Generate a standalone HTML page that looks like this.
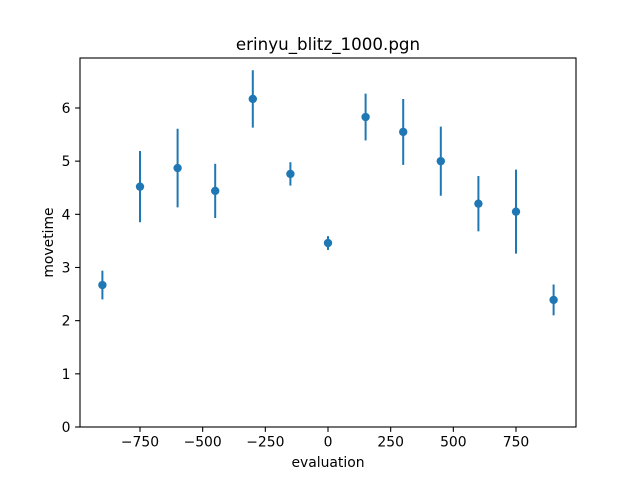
<!DOCTYPE html>
<html><head><meta charset="utf-8"><style>
body{margin:0;background:#fff;}
svg{display:block;font-family:"DejaVu Sans","Liberation Sans",sans-serif;}
</style></head><body>
<svg id="chart" width="640" height="480" viewBox="0 0 640 480">
<rect width="640" height="480" fill="#fff"/>
<g id="marks"></g>
<rect x="80" y="58" width="496" height="369" fill="none" stroke="#000" stroke-width="1.1"/>
<g id="xt"></g><g id="yt"></g>
<text x="328" y="50" text-anchor="middle" font-size="16.7">erinyu_blitz_1000.pgn</text>
<text x="328" y="467" text-anchor="middle" font-size="13.9">evaluation</text>
<text transform="translate(53,242.5) rotate(-90)" text-anchor="middle" font-size="13.9">movetime</text>
</svg>
<script>
const xs=[-900,-750,-600,-450,-300,-150,0,150,300,450,600,750,900];
const ys=[2.67,4.52,4.87,4.44,6.17,4.76,3.46,5.83,5.55,5.0,4.2,4.05,2.39];
const errs=[0.27,0.67,0.74,0.51,0.54,0.22,0.13,0.44,0.62,0.65,0.52,0.79,0.29];
const xTicks=[-750,-500,-250,0,250,500,750];
const yTicks=[0,1,2,3,4,5,6];
const NS="http://www.w3.org/2000/svg";
const X=v=>328+v*0.25067, Y=v=>427-v*53.17;
function mk(t,a,p){const e=document.createElementNS(NS,t);for(const k in a)e.setAttribute(k,a[k]);p.appendChild(e);return e;}
const m=document.getElementById('marks');
xs.forEach((x,i)=>{
 const l=mk('line',{x1:X(x),x2:X(x),y1:Y(ys[i]-errs[i]),y2:Y(ys[i]+errs[i]),stroke:'#1f77b4','stroke-width':2},m);
 
 
 const c=mk('circle',{cx:X(x),cy:Y(ys[i]),r:4.2,fill:'#1f77b4'},m);
 
 
});
const xt=document.getElementById('xt');
xTicks.forEach(v=>{
 mk('line',{x1:X(v),x2:X(v),y1:427,y2:431.9,stroke:'#000','stroke-width':1.1},xt);
 const t=mk('text',{x:X(v),y:446.5,'text-anchor':'middle','font-size':13.9},xt);
 t.textContent=v<0?'\u2212'+(-v):v;
 
 
});
const yt=document.getElementById('yt');
yTicks.forEach(v=>{
 mk('line',{x1:75.1,x2:80,y1:Y(v),y2:Y(v),stroke:'#000','stroke-width':1.1},yt);
 const t=mk('text',{x:70.5,y:Y(v)+5,'text-anchor':'end','font-size':13.9},yt);
 t.textContent=v;
 
 
});
</script>
</body></html>
